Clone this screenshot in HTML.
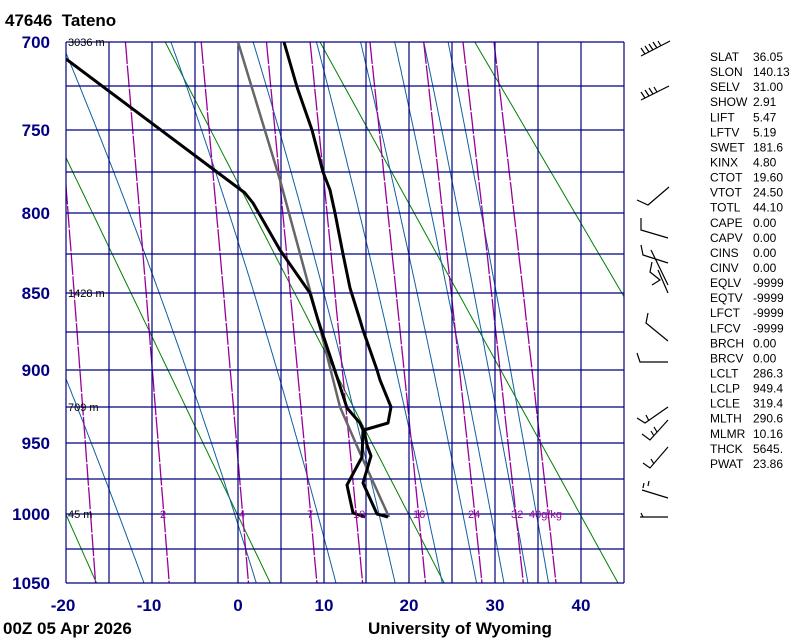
<!DOCTYPE html>
<html><head><meta charset="utf-8"><style>
html,body{margin:0;padding:0;background:#fff;}
svg{display:block;}
text{font-family:"Liberation Sans",sans-serif;}
.pl{font-size:17px;font-weight:bold;fill:#000080;}
.st{font-size:12px;fill:#000;}
</style></head><body>
<svg id="s" width="800" height="640" xmlns="http://www.w3.org/2000/svg">
<defs><clipPath id="c"><rect x="66" y="42" width="558" height="541"/></clipPath></defs>
<g id="bg" clip-path="url(#c)"></g>
<g id="grid" stroke="#000080" stroke-width="1.2" fill="none"></g>
<g id="data" clip-path="url(#c)" fill="none" stroke-linejoin="round"></g>
<text x="5" y="26" style="font-size:17px;font-weight:bold">47646&#160;&#160;Tateno</text>
<g class="pl" text-anchor="end">
<text x="50" y="48">700</text><text x="50" y="136">750</text><text x="50" y="219">800</text>
<text x="50" y="299">850</text><text x="50" y="376">900</text><text x="50" y="449">950</text>
<text x="50" y="520">1000</text><text x="50" y="589">1050</text>
</g>
<g class="pl" text-anchor="middle">
<text x="63" y="611">-20</text><text x="149" y="611">-10</text><text x="238" y="611">0</text>
<text x="324" y="611">10</text><text x="409" y="611">20</text><text x="495" y="611">30</text><text x="581" y="611">40</text>
</g>
<text x="3" y="634" style="font-size:17px;font-weight:bold">00Z 05 Apr 2026</text>
<text x="368" y="634" style="font-size:17px;font-weight:bold">University of Wyoming</text>
<g style="font-size:11px" fill="#000">
<text x="68" y="46">3036 m</text><text x="68" y="297">1428 m</text><text x="68" y="411">709 m</text><text x="68" y="518">45 m</text>
</g>
<g style="font-size:11px" fill="#990099">
<text x="160" y="518">2</text><text x="239" y="518">4</text><text x="307" y="518">7</text><text x="353" y="518">10</text>
<text x="413" y="518">16</text><text x="468" y="518">24</text><text x="511" y="518">32</text><text x="529" y="518">40g/kg</text>
</g>
<g id="stats" class="st"></g>
<g stroke="#000" stroke-width="1.2" fill="none">
<path d="M670 41 L641 56 M645 54 l-4 -6 M649 52 l-4 -6 M653 50 l-4 -6 M657 48 l-4 -6 M661 46 l-3 -5"/>
<path d="M669 86 L641 100 M645 98 l-4 -6 M649 96 l-4 -6 M653 94 l-4 -6 M657 92 l-3 -5"/>
<path d="M669 187 L648 205 L637 200"/>
<path d="M641 218 L641 230 L668 238"/>
<path d="M641 245 L643 255 L668 263 M651 250 L668 285 M652 262 L650 272 L660 280 L652 285"/>
<path d="M658 270 L668 293"/>
<path d="M648 313 L646 323 L668 341"/>
<path d="M637 353 L640 362 L668 362"/>
<path d="M668 407 L645 423 L637 418 M649 421 l-3 -6"/>
<path d="M668 420 L650 440 L642 434 M654 436 l-3 -5 M657 432 l-3 -5"/>
<path d="M668 447 L650 468 L643 463 M654 464 l-3 -5"/>
<path d="M642 490 L668 498 M643 488 l1 -5 M648 486 l1 -5"/>
<path d="M640 517 L668 517 M641 513 l2 4"/>
</g>
<script>
var NS="http://www.w3.org/2000/svg";
function X(T){return 66+(T+20)*8.571;}
var A=Math.pow(700,0.286),B=Math.pow(1050,0.286);
function Y(p){return 42+541*(Math.pow(p,0.286)-A)/(B-A);}
function add(g,tag,at){var e=document.createElementNS(NS,tag);for(var k in at)e.setAttribute(k,at[k]);document.getElementById(g).appendChild(e);return e;}
function poly(pts){return pts.map(function(q){return q[0].toFixed(1)+","+q[1].toFixed(1);}).join(" ");}
[253.15,273.15,293.15,313.15,333.15,353.15].forEach(function(th){
 var pts=[];for(var p=700;p<=1050;p+=5){pts.push([X(th*Math.pow(p/1000,0.286)-273.15),Y(p)]);}
 add("bg","polyline",{points:poly(pts),stroke:"#008000","stroke-width":"1",fill:"none"});});
function es(T){return 6.112*Math.exp(17.67*T/(T+243.5));}
[-10.9,2.2,11.5,18.4,23.9,27.9,31.1,33.9,36.3].forEach(function(T0){
 var T=T0+273.15,pts=[],Rd=287,cp=1004,L=2.5e6,eps=0.622;
 for(var p=1050;p>=700;p-=1){pts.push([X(T-273.15),Y(p)]);
  var e=es(T-273.15),rs=eps*e/(p-e);
  var d=(Rd*T+L*rs)/(cp+L*L*rs*eps/(Rd*T*T))/p;T-=d;}
 add("bg","polyline",{points:poly(pts),stroke:"#105fa0","stroke-width":"1",fill:"none"});});
[1,2,4,7,10,16,24,32,40].forEach(function(w){
 var pts=[];for(var p=700;p<=1050;p+=5){var e=w*p/(622+w),l=Math.log(e/6.112);pts.push([X(243.5*l/(17.67-l)),Y(p)]);}
 add("bg","polyline",{points:poly(pts),stroke:"#990099","stroke-width":"1.3","stroke-dasharray":"22,1.5",fill:"none"});});
[42,86,130,172,213,254,293,332,370,407,443,479,514,549,583].forEach(function(y){add("grid","line",{x1:66,x2:624,y1:y,y2:y});});
[66,109,152,195,238,281,324,366,409,452,495,538,581,624].forEach(function(x){add("grid","line",{x1:x,x2:x,y1:42,y2:583});});
add("data","polyline",{points:"238,42 280,180 318,320 340,407 360,453 389,517",stroke:"#666","stroke-width":"2.5"});
add("data","polyline",{points:"284,42 297,87 312,130 323,172 330,190 335,213 343,254 350,288 360,320 363,330 377,370 380,380 391,407 388,423 364,430 367,445 371,456 363,483 377,514 388,517",stroke:"#000","stroke-width":"3"});
add("data","polyline",{points:"66,59 245,193 253,203 280,250 310,293 318,320 338,380 347,408 360,423 363,430 362,457 347,485 353,513 365,517",stroke:"#000","stroke-width":"3"});
var st=[["SLAT","36.05"],["SLON","140.13"],["SELV","31.00"],["SHOW","2.91"],["LIFT","5.47"],["LFTV","5.19"],["SWET","181.6"],["KINX","4.80"],["CTOT","19.60"],["VTOT","24.50"],["TOTL","44.10"],["CAPE","0.00"],["CAPV","0.00"],["CINS","0.00"],["CINV","0.00"],["EQLV","-9999"],["EQTV","-9999"],["LFCT","-9999"],["LFCV","-9999"],["BRCH","0.00"],["BRCV","0.00"],["LCLT","286.3"],["LCLP","949.4"],["LCLE","319.4"],["MLTH","290.6"],["MLMR","10.16"],["THCK","5645."],["PWAT","23.86"]];
st.forEach(function(r,i){var y=61+i*15.07;add("stats","text",{x:710,y:y.toFixed(1)}).textContent=r[0];add("stats","text",{x:753,y:y.toFixed(1)}).textContent=r[1];});
</script>
</svg>
</body></html>
